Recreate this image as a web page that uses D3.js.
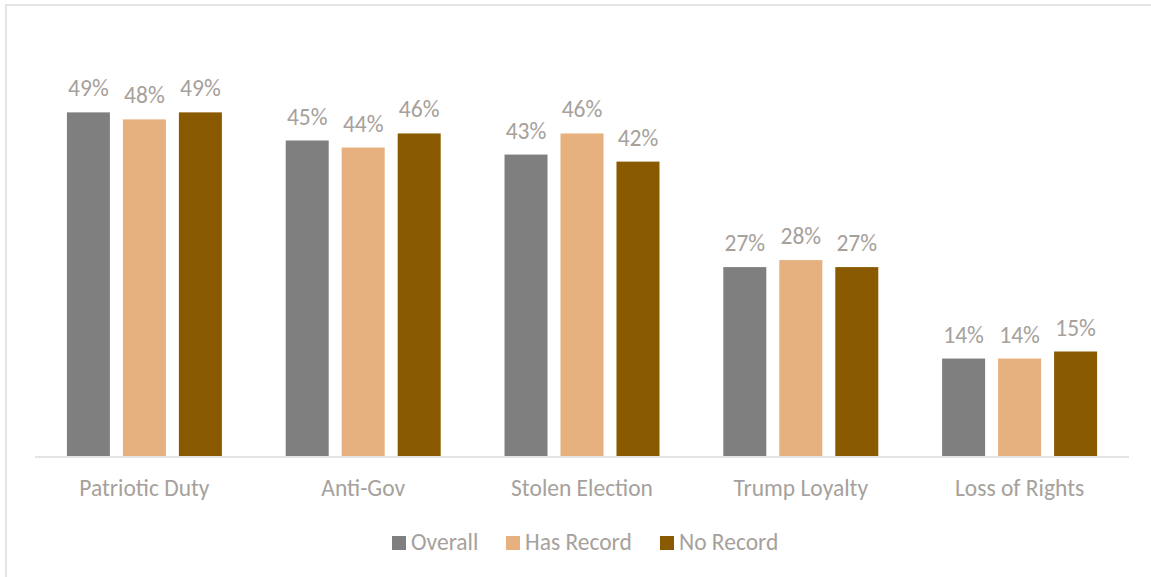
<!DOCTYPE html>
<html>
<head>
<meta charset="utf-8">
<script src="https://cdn.jsdelivr.net/npm/d3@7"></script>
<style>
  html, body { margin: 0; padding: 0; background: #fff; }
  svg { display: block; }
  text { font-family: "Carlito", "Lato", "Open Sans", sans-serif; fill: #a6a19c; }
</style>
</head>
<body>
<svg id="chart" width="1151" height="577"></svg>
<script>
const categories = ["Patriotic Duty", "Anti-Gov", "Stolen Election", "Trump Loyalty", "Loss of Rights"];
const seriesNames = ["Overall", "Has Record", "No Record"];
const overall = [49, 45, 43, 27, 14];
const hasRecord = [48, 44, 46, 28, 14];
const noRecord = [49, 46, 42, 27, 15];
const seriesColors = ["#7f7f7f", "#e6b17e", "#8a5a00"];

const seriesValues = [overall, hasRecord, noRecord];
const data = categories.map((c, i) => ({
  category: c,
  values: seriesNames.map((s, j) => ({ series: s, value: seriesValues[j][i] }))
}));

const svg = d3.select("#chart");
const FS = 23.5;

// chart frame (top and left edges visible)
svg.append("rect")
  .attr("x", 6).attr("y", 5)
  .attr("width", 1160).attr("height", 600)
  .attr("fill", "none")
  .attr("stroke", "#e4e4e4")
  .attr("stroke-width", 2);

const baseY = 457;
const x0 = d3.scaleBand().domain(categories).range([35, 1129]).paddingInner(0).paddingOuter(0);
const x1 = d3.scaleBand().domain(seriesNames).range([0, x0.bandwidth()]).paddingInner(0.232).paddingOuter(0.57);
const y = d3.scaleLinear().domain([0, 60]).range([baseY, 35]);
const color = d3.scaleOrdinal().domain(seriesNames).range(seriesColors);

const groups = svg.append("g").selectAll("g")
  .data(data).join("g")
  .attr("transform", d => `translate(${x0(d.category)},0)`);

groups.selectAll("rect")
  .data(d => d.values).join("rect")
  .attr("x", d => x1(d.series))
  .attr("y", d => y(d.value))
  .attr("width", x1.bandwidth())
  .attr("height", d => baseY - y(d.value))
  .attr("fill", d => color(d.series));

groups.selectAll("text.lbl")
  .data(d => d.values).join("text")
  .attr("class", "lbl")
  .attr("x", d => x1(d.series) + x1.bandwidth() / 2)
  .attr("y", d => y(d.value) - 16)
  .attr("text-anchor", "middle")
  .attr("font-size", FS)
  .text(d => d.value + "%");

// x axis
const xAxis = svg.append("g")
  .attr("transform", `translate(0,${baseY})`)
  .call(d3.axisBottom(x0).tickSize(0).tickPadding(0));
xAxis.select(".domain").attr("stroke", "#e4e4e4").attr("stroke-width", 2).attr("d", `M35,0H1129`);
xAxis.selectAll(".tick text")
  .attr("dy", 0)
  .attr("y", 39)
  .attr("font-size", FS)
  .attr("font-family", null)
  .attr("fill", "#a6a19c");
xAxis.attr("font-family", null).attr("font-size", null);

// legend
const legendX = [392, 506, 660];
const legend = svg.append("g").selectAll("g")
  .data(seriesNames).join("g")
  .attr("transform", (d, i) => `translate(${legendX[i]},536)`);
legend.append("rect")
  .attr("width", 14).attr("height", 14)
  .attr("fill", d => color(d));
legend.append("text")
  .attr("x", 19).attr("y", 14)
  .attr("font-size", FS)
  .text(d => d);
</script>
</body>
</html>
